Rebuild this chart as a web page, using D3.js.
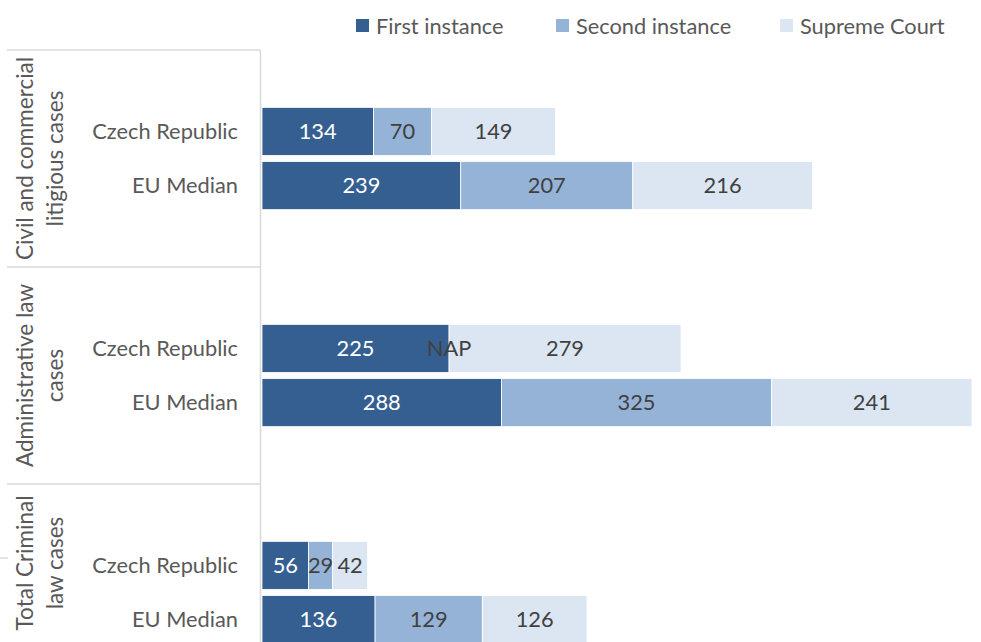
<!DOCTYPE html>
<html>
<head>
<meta charset="utf-8">
<script src="https://cdn.jsdelivr.net/npm/d3@7"></script>
<style>
  html, body { margin: 0; padding: 0; background: #fff; }
  svg { display: block; font-family: "Lato", "Open Sans", sans-serif; }
</style>
</head>
<body>
<svg id="chart" width="981" height="642"></svg>
<script>
// ---- data ----
const groups = [
  ["Civil and commercial", "litigious cases"],
  ["Administrative law", "cases"],
  ["Total Criminal", "law cases"]
];
const categories = ["Czech Republic", "EU Median"];
const seriesNames = ["First instance", "Second instance", "Supreme Court"];
// rows: civil CZ, civil EU, admin CZ, admin EU, criminal CZ, criminal EU
const firstInstance  = [134, 239, 225, 288, 56, 136];
const secondInstance = [70, 207, 0, 325, 29, 129];
const supremeCourt   = [149, 216, 279, 241, 42, 126];
const secondLabels   = ["70", "207", "NAP", "325", "29", "129"];

// ---- layout ----
const W = 981, H = 642;
const colors = ["#355f91", "#95b3d7", "#dce6f2"];
const labelColors = ["#ffffff", "#404040", "#404040"];
const textColor = "#595959";
const lineColor = "#d9d9d9";
const fs = 21.8;

const svg = d3.select("#chart");
svg.append("rect").attr("width", W).attr("height", H).attr("fill", "#fff");

// rows: per group a blank slot, the two categories, a blank slot
const rowKeys = [];
groups.forEach((g, gi) => {
  rowKeys.push(`g${gi}-pre`);
  categories.forEach((c, ci) => rowKeys.push(`g${gi}-${ci}`));
  rowKeys.push(`g${gi}-post`);
});
const slotsPerGroup = categories.length + 2;
const stepPx = 54.25;
const plotTop = 50;
const y = d3.scaleBand()
  .domain(rowKeys)
  .range([plotTop, plotTop + rowKeys.length * stepPx])
  .paddingInner(0.115)
  .paddingOuter(0.0575);

const rows = [];
groups.forEach((g, gi) => categories.forEach((c, ci) => {
  const i = gi * categories.length + ci;
  rows.push({
    key: `g${gi}-${ci}`, cat: c,
    vals: [firstInstance[i], secondInstance[i], supremeCourt[i]],
    labels: [String(firstInstance[i]), secondLabels[i], String(supremeCourt[i])]
  });
}));

const xMax = d3.max(rows, r => d3.sum(r.vals));
const x = d3.scaleLinear().domain([0, xMax]).range([262, 972]);

// ---- bars ----
const rowG = svg.append("g").selectAll("g").data(rows).join("g");
rowG.each(function(r) {
  const g = d3.select(this);
  let acc = 0;
  r.vals.forEach((v, si) => {
    const x0 = x(acc), x1 = x(acc + v);
    acc += v;
    if (v > 0) {
      g.append("rect")
        .attr("x", x0).attr("y", y(r.key))
        .attr("width", x1 - x0).attr("height", y.bandwidth())
        .attr("fill", colors[si])
        .attr("stroke", "#ffffff").attr("stroke-width", 0.8);
    }
  });
  acc = 0;
  r.vals.forEach((v, si) => {
    const x0 = x(acc), x1 = x(acc + v);
    acc += v;
    g.append("text")
      .attr("x", (x0 + x1) / 2)
      .attr("y", y(r.key) + y.bandwidth() / 2)
      .attr("dy", "0.36em")
      .attr("text-anchor", "middle")
      .attr("font-size", fs)
      .attr("fill", labelColors[si])
      .text(r.labels[si]);
  });
});

// ---- axis lines ----
const axisX = 260.5;
const groupTop = gi => y.step() * gi * slotsPerGroup + plotTop;
svg.append("line")
  .attr("x1", axisX).attr("x2", axisX)
  .attr("y1", plotTop).attr("y2", H)
  .attr("stroke", lineColor).attr("stroke-width", 1.5);
for (let gi = 0; gi <= groups.length; gi++) {
  const yy = groupTop(gi);
  if (yy > H) continue;
  svg.append("line")
    .attr("x1", 7).attr("x2", axisX)
    .attr("y1", yy).attr("y2", yy)
    .attr("stroke", lineColor).attr("stroke-width", 1.5);
}
// small outer tick fragment
svg.append("line")
  .attr("x1", 0).attr("x2", 8)
  .attr("y1", 558).attr("y2", 558)
  .attr("stroke", lineColor).attr("stroke-width", 1.5);

// ---- category labels ----
svg.append("g").selectAll("text").data(rows).join("text")
  .attr("x", 238)
  .attr("y", r => y(r.key) + y.bandwidth() / 2)
  .attr("dy", "0.36em")
  .attr("text-anchor", "end")
  .attr("font-size", fs)
  .attr("fill", textColor)
  .text(r => r.cat);

// ---- group labels ----
const lineXs = [25, 55];
groups.forEach((lines, gi) => {
  const t = groupTop(gi);
  const b = Math.min(groupTop(gi + 1), H);
  const cy = (t + b) / 2;
  lines.forEach((ln, li) => {
    svg.append("text")
      .attr("transform", `translate(${lineXs[li]},${cy}) rotate(-90)`)
      .attr("dy", "0.36em")
      .attr("text-anchor", "middle")
      .attr("font-size", 22.5)
      .attr("fill", textColor)
      .text(ln);
  });
});

// ---- legend ----
const legendXs = [356, 556, 780];
const legend = svg.append("g").selectAll("g").data(seriesNames).join("g")
  .attr("transform", (d, i) => `translate(${legendXs[i]},0)`);
legend.append("rect")
  .attr("x", 0).attr("y", 19).attr("width", 13).attr("height", 13)
  .attr("fill", (d, i) => colors[i]);
legend.append("text")
  .attr("x", 20).attr("y", 26).attr("dy", "0.36em")
  .attr("font-size", fs).attr("fill", textColor)
  .text(d => d);
</script>
</body>
</html>
